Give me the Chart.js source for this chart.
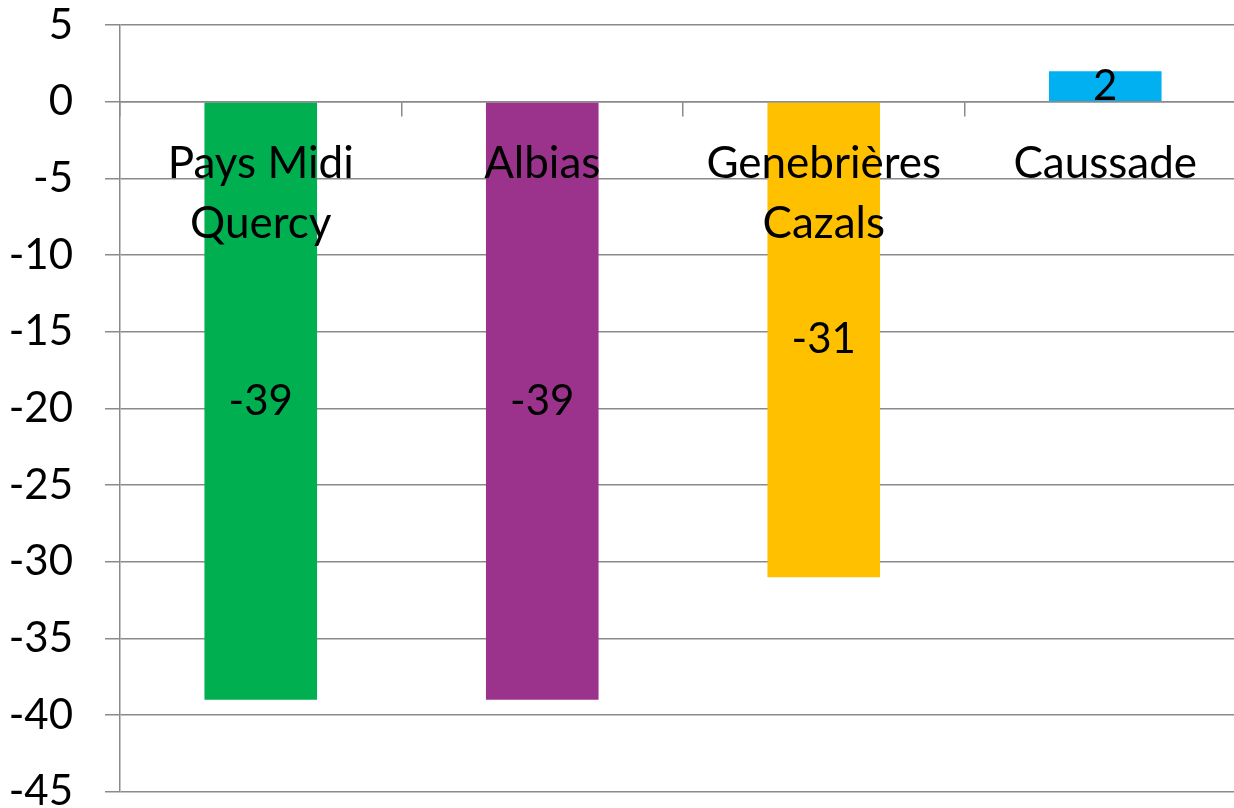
<!DOCTYPE html>
<html>
<head>
<meta charset="utf-8">
<script src="https://cdn.jsdelivr.net/npm/chart.js@4.4.0/dist/chart.umd.min.js"></script>
<style>
    html, body { margin: 0; padding: 0; overflow: hidden; background: #fff; }
    #wrap { position: absolute; left: 0; top: -32px; width: 1246px; height: 881px; }
</style>
</head>
<body>
<div id="wrap"><canvas id="barChart"></canvas></div>
<script>
    // Chart data
    const categories = [["Pays Midi", "Quercy"], "Albias", ["Genebrières", "Cazals"], "Caussade"];
    const values = [-39, -39, -31, 2];
    const barColors = ["#00B050", "#9B338C", "#FFC000", "#00B0F0"];
    const yMin = -45;
    const yMax = 5;
    const yStep = 5;

    const FONT = "Lato";
    const GRID = "#8a8a8a";

    // Draws the value of each bar at its centre
    const valueLabels = {
        id: "valueLabels",
        afterDatasetsDraw(chart) {
            const ctx = chart.ctx;
            const meta = chart.getDatasetMeta(0);
            ctx.save();
            ctx.font = "42px " + FONT;
            ctx.fillStyle = "#000";
            ctx.textAlign = "center";
            ctx.textBaseline = "middle";
            meta.data.forEach((bar, i) => {
                const p = bar.getCenterPoint();
                ctx.fillText(String(values[i]), p.x, p.y);
            });
            ctx.restore();
        },
    };

    const chart = new Chart(document.getElementById("barChart"), {
        type: "bar",
        data: {
            labels: categories,
            datasets: [
                {
                    data: values,
                    backgroundColor: barColors,
                    borderWidth: 0,
                    categoryPercentage: 1,
                    barPercentage: 0.4,
                },
            ],
        },
        options: {
            responsive: true,
            maintainAspectRatio: false,
            animation: false,
            layout: { padding: 0 },
            plugins: {
                legend: { display: false },
                tooltip: { enabled: false },
            },
            scales: {
                x: {
                    position: { y: 0 },
                    offset: true,
                    ticks: {
                        z: 2,
                        color: "#000",
                        font: { family: FONT, size: 44, lineHeight: 1.36 },
                        padding: 18,
                        maxRotation: 0,
                        autoSkip: false,
                    },
                    grid: {
                        z: 1,
                        drawOnChartArea: false,
                        color: GRID,
                        lineWidth: 1.5,
                        tickLength: 14,
                        offset: true,
                    },
                    border: { z: 1, color: GRID, width: 1.5 },
                },
                y: {
                    min: yMin,
                    max: yMax,
                    ticks: {
                        stepSize: yStep,
                        color: "#000",
                        font: { family: FONT, size: 42 },
                        padding: 32,
                    },
                    grid: { color: GRID, lineWidth: 1.5, tickLength: 15 },
                    border: { color: GRID, width: 1.5 },
                    afterFit(scale) {
                        scale.width = 120;
                    },
                },
            },
        },
        plugins: [valueLabels],
    });
</script>
</body>
</html>
